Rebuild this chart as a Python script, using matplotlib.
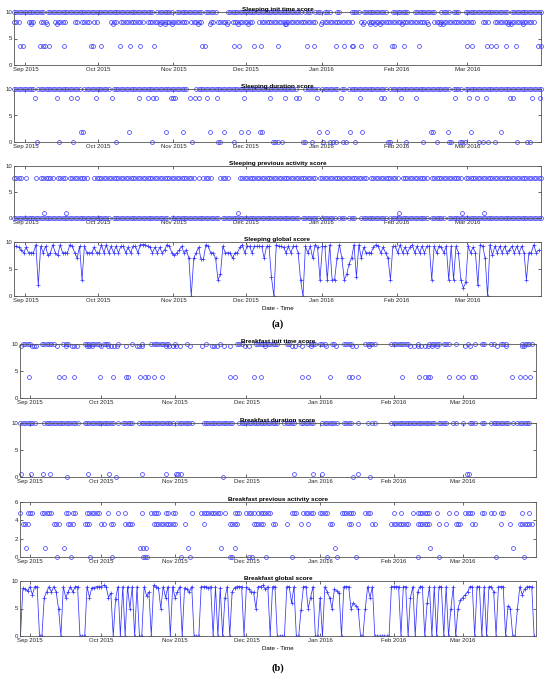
import numpy as np
import pandas as pd
import matplotlib
matplotlib.use("Agg")
import matplotlib.pyplot as plt
import matplotlib.dates as mdates

plt.rcParams['font.family'] = ['Liberation Sans', 'DejaVu Sans']

# ---- data ----------------------------------------------------------------
# masks: one character per day ('o' = a record at that level), groups of 10 days
# lists: day offsets (days since the start of the axis) of sparse records

# (a) sleeping, day 0 = 27 Aug 2015 08:00
START_A = "2015-08-27 08:00"

sleep_init_10 = ("oooooooooo ooo.oooooo oooooooooo oooooooooo oooooooooo oooooooo.o "
                 "oooooo.ooo oooooooo.o oooo....oo oooooooooo oooooooooo ooooooooo. "
                 "ooo.ooo.oo o..oo....o ooo.oooooo oooo..oooo ooo..ooooo oooo..oooo "
                 ".ooo..oooo oooooooooo oooo.ooooo oooooooo..")
sleep_init_8 = ("ooo...ooo. .ooo...ooo oo...oo.oo oo.oo..... ooo.oooooo oooo.ooooo "
                "oooooooooo oo.ooooo.. .oo.ooooo. ooooooooo. .ooooooooo oooooooooo "
                "ooooo..ooo oooooooooo ...oo.oooo oooooooooo oooooooooo o..ooooooo "
                "oooooooooo ...ooo..oo oooooooooo ooooo.....")
sleep_init_8low = [7.0, 13.4, 17.6, 40.9, 60.0, 62.0, 65.0, 75.9, 80.9, 87.5, 92.3, 96.4,
                   111.5, 112.2, 126.6, 143.8, 146.5, 148.5, 150.9, 159.9, 170.4, 175.3,
                   176.7, 203.4, 204.8, 209.6]
sleep_init_low = [2.5, 3.6, 10.7, 11.8, 12.8, 14.5, 20.7, 31.6, 32.6, 35.8, 43.6, 47.7,
                  51.9, 57.7, 77.6, 78.6, 90.6, 92.6, 98.8, 101.8, 108.5, 120.7, 123.5,
                  132.6, 135.8, 139.0, 139.6, 142.8, 148.6, 155.7, 156.5, 160.6, 166.7,
                  186.5, 188.6, 194.6, 196.6, 198.6, 202.6, 206.6, 215.8, 216.8]

sleep_dur_10 = ("ooooooooo. oooooooooo oooooooo.o oooooooooo .ooooooooo oooooooooo "
                "oooooooooo oo...ooooo oooooooooo oooooooooo oooooooooo ooooooo... "
                "oooooo.ooo oooo.oo.oo oooooooooo oooo.ooooo oooooooooo oooooooooo "
                ".oooo.oooo oooooooooo oooooooooo oooooooo..")
sleep_dur_8 = [8.6, 17.6, 23.3, 25.8, 33.6, 40.5, 51.4, 55.3, 57.3, 58.4, 64.6, 65.6, 66.3,
               72.4, 74.5, 76.3, 79.6, 83.5, 94.5, 105.6, 111.6, 116.3, 117.3, 124.6,
               134.6, 142.4, 151.3, 152.4, 159.5, 165.4, 181.5, 187.2, 190.5, 194.3,
               204.2, 205.5, 213.3, 216.4]
sleep_dur_2 = [27.4, 28.5, 47.3, 62.4, 69.5, 80.7, 86.4, 93.3, 96.4, 101.2, 102.3, 125.4,
               128.7, 138.3, 143.3, 171.6, 172.4, 178.5, 188.3, 200.4]
sleep_dur_0 = [9.3, 18.5, 24.4, 42.2, 56.7, 73.4, 84.0, 85.0, 90.5, 106.7, 107.4, 108.8,
               110.2, 119.1, 120.0, 122.5, 127.3, 130.0, 131.4, 132.4, 135.5, 136.5, 140.3,
               153.8, 154.7, 161.6, 168.4, 174.3, 179.0, 180.1, 183.5, 184.5, 185.6, 191.3,
               193.1, 195.2, 197.9, 207.3, 211.4, 212.3]

sleep_prev_8 = ("oooo.o...o .oooooo.oo oo.ooooooo o..ooooooo oooooooooo oooooooooo "
                "oooooooooo ooooo.o.oo oo...oooo. ...ooooooo oooooooooo oooooooooo "
                "ooooo.oooo oooooooooo oooooo.ooo ooooooooo. oooooooooo o.oooooooo "
                "ooooo.oooo oooooooooo oooooooooo oooooooo..")
sleep_prev_0 = ("oooooooooo oooooooooo oooooooooo oooooooooo .ooooooooo oooooooooo "
                "oooo.ooooo oooooooooo ooooo.oooo oooooooooo oooooooooo oooooooo.o "
                "oooooo.ooo ooo.ooo.oo o..ooooooo oooo.ooooo oooooooooo o.oooooo.o "
                "oooooooooo oooooooooo oooooooooo oooooooo..")
sleep_prev_1 = [12.5, 21.4, 92.3, 158.4, 184.4, 193.4]

# one value per day from day 0
sleep_global = [
    9.2, 9.2, 9, 8.5, 8, 9, 8, 8, 8, 9.5,
    2, 9.2, 8, 9.2, 7.5, 8, 9.5, 8, 7.5, 9.5,
    8, 8, 8, 9.5, 9.2, 8, 7, 9.2, 3, 9.2,
    8, 8, 8, 9, 8, 8, 9.5, 8, 9.5, 8,
    9.2, 8, 9.2, 8, 9.2, 9.2, 8, 9, 8, 9.2,
    9.2, 8, 9.5, 9.5, 9.5, 9.2, 9, 8, 9, 8,
    9, 8, 8.5, 9.5, 9.2, 8, 7.5, 8, 8.5, 9.2,
    8, 8.5, 7, 0, 7, 8, 9, 6.8, 6.8, 9.5,
    9.2, 8, 8, 7, 3, 4, 9.2, 8, 8, 8,
    7, 8, 8, 9, 9.5, 8, 9.2, 9.2, 8, 9.2,
    9.2, 9.2, 9.2, 7, 9.2, 9.2, 3.5, 0, 9.5, 9.2,
    9.2, 9, 8, 9.2, 8, 9.2, 9.2, 8, 3, 0,
    9.2, 8, 9.2, 7, 9.5, 9, 3, 9.2, 9.2, 3,
    9.5, 3, 3, 7, 9.5, 7, 3, 4, 6, 7,
    9.5, 3.5, 9.5, 7, 9, 8, 8, 8, 9, 9.5,
    9.2, 8, 9, 8, 7, 3, 9.2, 9.2, 8, 9.5,
    8, 9, 8, 9, 9.5, 8, 9.2, 8, 9.2, 8,
    9.2, 9.2, 3, 9.2, 8, 9.2, 9, 8, 9.2, 3,
    9.2, 3, 9.2, 8, 3, 1.5, 2.5, 9.2, 8, 9,
    8, 2, 9.5, 9.2, 7, 0, 9.5, 7.5, 9.2, 8,
    9.2, 8, 9.2, 8, 8.5, 9.2, 8, 9.2, 8, 9.2,
    8, 3, 8, 8, 9.5, 8, 8.5]

# (b) breakfast, day 0 = 27 Aug 2015 00:00
START_B = "2015-08-27 00:00"

bf_init_10 = ("..oooo.... oooooo...o oo......oo ooooo.ooo. ..o.....o. ..o...oooo "
              "oooo..o... .o.......o .....o.... ..ooo..... oooooooooo ...oo...o. "
              "..oooo.ooo ..oo...ooo o.....oooo o......ooo ooooo...o. ...ooooo.o "
              "oo..o....o ..o..oo..o o..ooo.... ..ooooo...")
bf_init_9 = [1.2, 5.7, 6.5, 7.4, 16.2, 20.2, 22.5, 23.5, 24.6, 29.0, 30.0, 31.0, 34.9,
             37.7, 39.0, 40.3, 41.5, 45.3, 50.0, 51.0, 52.0, 62.0, 63.5, 65.0, 66.5, 68.0,
             72.3, 77.2, 81.4, 82.5, 83.5, 86.4, 89.2, 95.5, 96.9, 103.9, 115.0, 116.5,
             119.4, 123.0, 129.3, 133.5, 140.6, 142.0, 147.6, 165.0, 166.5, 168.0, 169.5,
             171.0, 172.5, 174.0, 176.0, 188.0, 190.0, 201.4, 205.0, 212.0, 212.8]
bf_init_4 = [4.6, 17.2, 19.5, 23.5, 34.5, 39.7, 45.3, 46.4, 51.3, 53.4, 54.5, 57.3, 60.4,
             89.2, 91.4, 99.3, 102.3, 119.3, 122.1, 131.2, 139.2, 140.4, 143.1, 161.4,
             168.4, 171.2, 172.3, 173.3, 181.0, 185.1, 187.2, 191.0, 192.1, 207.5, 211.1,
             213.2, 215.4]

bf_dur_10 = (".ooooooo.. .ooooooooo oooooo..oo oooooooooo o.o.ooooo. .ooooooooo "
             "oooooo.ooo oooo....oo oooooooooo o..ooooooo oooooooooo ..ooooo..o "
             "ooooo...oo ooooo..ooo o..o...o.o o......ooo oooooooooo oooooo.ooo "
             "o..oo..o.. ooo..oo..o ooooooo.o. oooooo....")
bf_dur_half = [1.2, 5.4, 10.3, 13.4, 29.3, 38.2, 52.3, 62.2, 66.4, 67.4, 68.4, 115.9,
               124.0, 127.8, 143.0, 188.9, 189.8]
bf_dur_0 = [20.4, 41.2, 86.1, 141.0, 147.9]

bf_prev_5 = (".o..ooo... ooooo..... oo.oo....o ooooo...o. ..o..o.... ..o...oooo "
             "..oo.oo... ...o...ooo oooooo.o.. .ooo..oooo .oooooo... .....ooo.. "
             "ooooo..ooo o.....oooo oo....ooo. ........o. .o....o.oo oooo..o... "
             ".o..o...oo oo...oo..o o..oo..... ..o..o....")
bf_prev_4 = ("..ooo..... .....ooo.. .ooo....oo o....oo..o o....oooo. .......ooo "
             "ooooooo... o.......o. .........o ooo......o oooo...oo. ...o.....o "
             "..o....... .oo......o o..o.....o o......ooo ooooo...oo oooo...o.. "
             "o...ooo... .oo....... ...o...o.. .oooooo...")
bf_prev_1 = [3.3, 11.3, 19.5, 51.3, 52.5, 53.8, 71.3, 85.2, 91.4, 133.3, 173.3, 208.1]
bf_prev_0 = [16.5, 22.3, 30.3, 39.4, 52.7, 53.5, 54.4, 68.4, 72.3, 89.2, 89.9, 97.3, 98.3,
             104.2, 115.1, 130.1, 134.0, 142.2, 168.1, 177.0, 200.9, 212.8]

# one value per day from day 1
bf_global = [
    0, 8.7, 8.5, 8.2, 9, 7.5, 9, 9, 0, 0,
    7, 8, 9, 8, 9, 8, 5, 0, 9, 7,
    8, 9, 8, 9, 9, 0, 0, 0, 9, 7,
    8.8, 8.8, 9, 9, 9, 9.2, 9, 7, 7.8, 0,
    6.8, 9, 0, 9, 0, 9, 5, 9, 0, 9,
    0, 0, 9, 7.3, 8, 0, 9.2, 9, 8.8, 5,
    9, 7, 9, 0, 9, 7, 8, 9, 0, 8.8,
    8.5, 8, 9, 0, 0, 0, 9, 9, 9, 8.8,
    9, 0, 9, 0, 8.8, 0, 7, 9, 0, 8,
    8.8, 9, 9, 9, 0, 9, 8.5, 8, 8, 5,
    9, 9, 9.2, 8.5, 9, 0, 9,
    9, 0, 0, 0, 0, 9, 9, 6, 9, 0,
    0, 4.8, 9, 9, 5, 7, 9, 0, 0, 7,
    0, 9, 8, 7, 5, 8.5, 8.2, 7.8, 0, 9,
    9, 9, 5, 6, 5.5, 5, 0, 0, 5, 9,
    7, 9, 0, 0, 0, 0, 0, 0, 0, 9,
    9, 9, 9, 0, 9, 9, 0, 7, 9, 0,
    8, 9, 9, 0, 6, 9, 0, 9, 0, 9,
    9, 0, 9, 0, 5, 9, 0, 5, 6.5, 7,
    7.5, 8, 9, 9, 0, 9, 9, 0, 9, 0,
    9, 9, 8, 0, 9, 9, 9, 0, 5.5, 5,
    0, 0, 5, 9, 7.5, 8.5, 9, 9, 9, 0]

# ---- helpers --------------------------------------------------------------
W, H = 550, 678
BLUE = '#3333ff'
fig = plt.figure(figsize=(W / 100, H / 100), dpi=100)


def mask_days(mask):
    m = mask.replace(" ", "")
    return [i for i, c in enumerate(m) if c == "o"]


def to_dates(start, days):
    return pd.Timestamp(start) + pd.to_timedelta(np.asarray(days, dtype=float), unit="D")


def make_ax(l, t, r, b, title, xlim, ylim, yticks):
    ax = fig.add_axes([l / W, 1 - b / H, (r - l) / W, (b - t) / H])
    ax.set_xlim(pd.Timestamp(xlim[0]), pd.Timestamp(xlim[1]))
    ax.set_ylim(*ylim)
    ax.set_yticks(yticks)
    ax.xaxis.set_major_locator(mdates.MonthLocator())
    ax.xaxis.set_major_formatter(mdates.DateFormatter('%b %Y'))
    ax.tick_params(direction='in', length=2.2, width=0.5, top=True, right=True,
                   labelsize=4.3, pad=1.5, colors='#262626')
    for s in ax.spines.values():
        s.set_color('#555555')
        s.set_linewidth(0.6)
    ax.set_title(title, fontsize=4.6, fontweight='bold', pad=0.8)
    return ax


def circles(ax, start, days, level):
    ax.plot(to_dates(start, days), [level] * len(days), 'o', mfc='none', mec=BLUE,
            ms=2.8, mew=0.5, clip_on=False)


def global_line(ax, start, first_day, values):
    days = np.arange(len(values)) + first_day
    ax.plot(to_dates(start, days), values, '-+', color=BLUE, lw=0.55, ms=2.5, mew=0.5)


XLIM_A = ("2015-08-27 08:00", "2016-03-31 08:00")
XLIM_B = ("2015-08-27 19:00", "2016-03-31 19:00")

# ---- (a) sleeping ---------------------------------------------------------
ax1 = make_ax(14, 12, 541, 65, 'Sleeping init time score', XLIM_A, (0, 10), [0, 5, 10])
circles(ax1, START_A, mask_days(sleep_init_10), 10)
circles(ax1, START_A, mask_days(sleep_init_8), 8.1)
circles(ax1, START_A, sleep_init_8low, 7.75)
circles(ax1, START_A, sleep_init_low, 3.65)

ax2 = make_ax(14, 89, 541, 142, 'Sleeping duration score', XLIM_A, (0, 10), [0, 5, 10])
circles(ax2, START_A, mask_days(sleep_dur_10), 10)
circles(ax2, START_A, sleep_dur_8, 8.25)
circles(ax2, START_A, sleep_dur_2, 1.85)
circles(ax2, START_A, sleep_dur_0, 0)

ax3 = make_ax(14, 166, 541, 218, 'Sleeping previous activity score', XLIM_A, (0, 10), [0, 5, 10])
circles(ax3, START_A, mask_days(sleep_prev_8), 7.65)
circles(ax3, START_A, mask_days(sleep_prev_0), 0)
circles(ax3, START_A, sleep_prev_1, 1.0)

ax4 = make_ax(14, 242, 541, 296, 'Sleeping global score', XLIM_A, (0, 10), [0, 5, 10])
global_line(ax4, START_A, 0, sleep_global)
ax4.set_xlabel('Date - Time', fontsize=4.4, labelpad=2)

fig.text(277.5 / W, 1 - 324 / H, '(a)', ha='center', va='center', fontsize=7.5,
         fontweight='bold', family=['Liberation Serif', 'DejaVu Serif'])

# ---- (b) breakfast --------------------------------------------------------
ax5 = make_ax(20, 344, 536, 398, 'Breakfast init time score', XLIM_B, (0, 10), [0, 5, 10])
circles(ax5, START_B, mask_days(bf_init_10), 10)
circles(ax5, START_B, bf_init_9, 9.65)
circles(ax5, START_B, bf_init_4, 3.9)

ax6 = make_ax(20, 423, 536, 477, 'Breakfast duration score', XLIM_B, (0, 10), [0, 5, 10])
circles(ax6, START_B, mask_days(bf_dur_10), 10)
circles(ax6, START_B, bf_dur_half, 0.55)
circles(ax6, START_B, bf_dur_0, 0)

ax7 = make_ax(20, 502, 536, 557, 'Breakfast previous activity score', XLIM_B, (0, 6), [0, 2, 4, 6])
circles(ax7, START_B, mask_days(bf_prev_5), 4.85)
circles(ax7, START_B, mask_days(bf_prev_4), 3.65)
circles(ax7, START_B, bf_prev_1, 1.0)
circles(ax7, START_B, bf_prev_0, 0)

ax8 = make_ax(20, 581, 536, 636, 'Breakfast global score', XLIM_B, (0, 10), [0, 5, 10])
global_line(ax8, START_B, 1, bf_global)
ax8.set_xlabel('Date - Time', fontsize=4.4, labelpad=2)

fig.text(278 / W, 1 - 668 / H, '(b)', ha='center', va='center', fontsize=7.5,
         fontweight='bold', family=['Liberation Serif', 'DejaVu Serif'])

fig.savefig('out.png', dpi=100)
